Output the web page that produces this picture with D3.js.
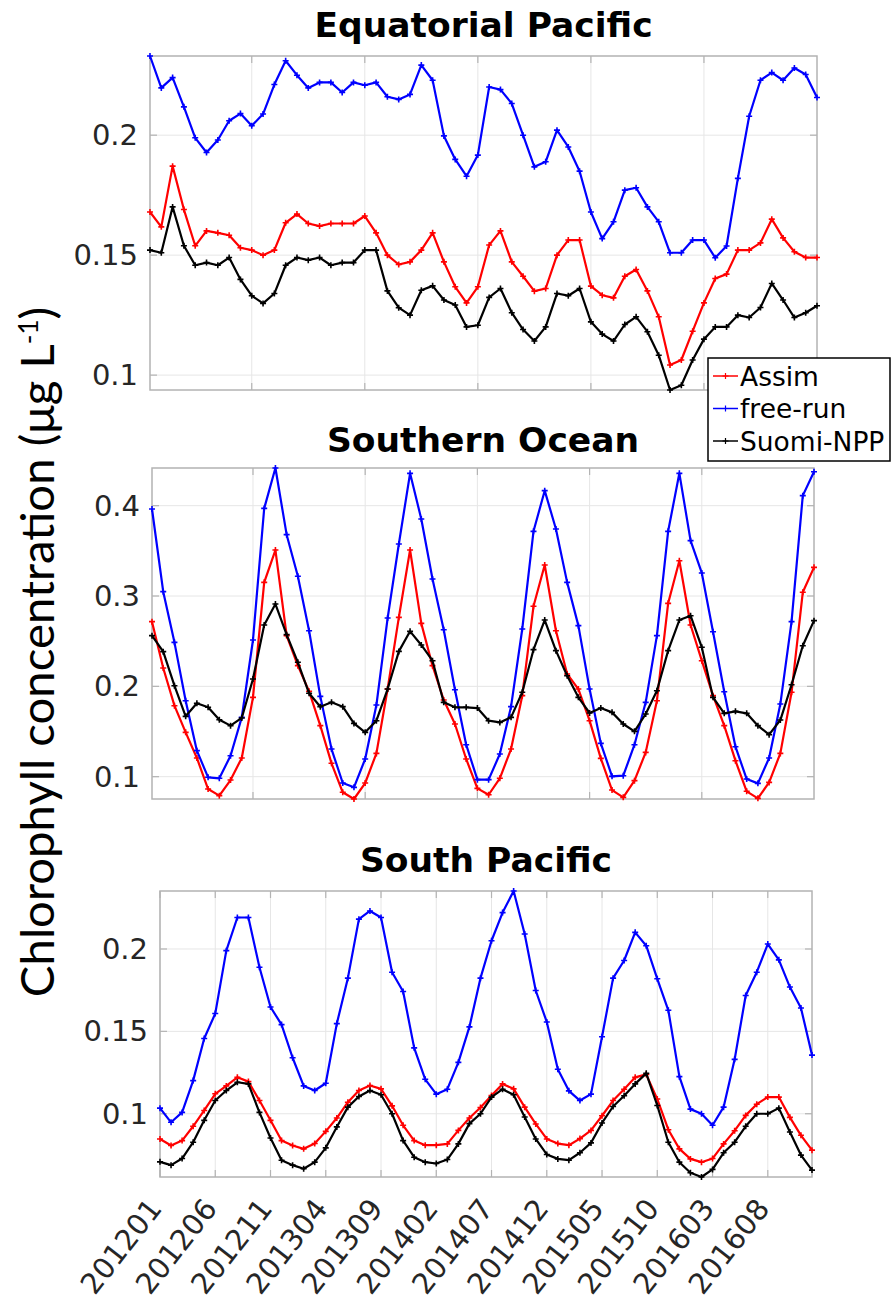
<!DOCTYPE html>
<html>
<head>
<meta charset="utf-8">
<script src="https://cdn.jsdelivr.net/npm/d3@7"></script>
<style>
  html, body { margin: 0; padding: 0; background: #fff; }
  svg { display: block; }
</style>
</head>
<body>
<div id="chart"></div>
<script>
const width = 892;
const height = 1309;

// months 201201 .. 201612 (60 points), x tick labels on the bottom panel every 5 months
const months = d3.range(60);
const dateLabels = ['201201', '201206', '201211', '201304', '201309', '201402',
  '201407', '201412', '201505', '201510', '201603', '201608'];

const seriesNames = ['Assim', 'free-run', 'Suomi-NPP'];
const seriesColors = ['#ff0000', '#0000ff', '#000000'];

// Equatorial Pacific
const eqAssim = [0.168,0.1618,0.1871,0.169,0.1539,0.1601,0.1593,0.1583,0.1531,0.1521,
  0.15,0.1521,0.1635,0.1671,0.1632,0.1621,0.1632,0.1632,0.1632,0.1663,
  0.1593,0.15,0.1461,0.1472,0.1521,0.1593,0.1472,0.1368,0.1301,0.1368,
  0.1542,0.1601,0.1472,0.1412,0.135,0.1361,0.15,0.1563,0.1563,0.1371,
  0.1333,0.1322,0.1412,0.144,0.1351,0.1243,0.1042,0.1063,0.1183,0.1301,
  0.1403,0.1421,0.1521,0.1521,0.1551,0.165,0.1572,0.1514,0.149,0.149];
const eqFree = [0.233,0.2197,0.224,0.2118,0.1989,0.1928,0.198,0.206,0.209,0.2039,
  0.2088,0.2211,0.231,0.225,0.2197,0.222,0.222,0.2178,0.222,0.2208,
  0.222,0.216,0.2149,0.217,0.2292,0.2229,0.1997,0.1899,0.1829,0.1917,
  0.2201,0.219,0.2132,0.2,0.1868,0.1889,0.2021,0.1951,0.185,0.168,
  0.1569,0.1639,0.1771,0.1781,0.1701,0.1639,0.151,0.151,0.1563,0.1563,
  0.1489,0.1538,0.182,0.2079,0.2229,0.2261,0.2229,0.228,0.2253,0.2157];
const eqNpp = [0.1521,0.151,0.1701,0.1539,0.1458,0.1469,0.1458,0.149,0.1399,0.1331,
  0.1299,0.134,0.1458,0.149,0.1479,0.149,0.1458,0.1469,0.1469,0.1521,
  0.1521,0.1351,0.1281,0.125,0.1354,0.1372,0.1313,0.1292,0.1201,0.1208,
  0.1324,0.1361,0.126,0.119,0.1142,0.1201,0.134,0.1331,0.1361,0.1222,
  0.1171,0.1142,0.1211,0.1243,0.1181,0.1083,0.0938,0.0958,0.1063,0.115,
  0.1201,0.1201,0.125,0.124,0.1282,0.1382,0.1313,0.124,0.126,0.1289];

// Southern Ocean
const soAssim = [0.2716,0.2203,0.1786,0.1491,0.1207,0.0863,0.079,0.0963,0.1207,0.1878,
  0.3151,0.3509,0.2561,0.2229,0.1945,0.1565,0.1148,0.0827,0.0753,0.093,
  0.1258,0.197,0.2764,0.3509,0.2697,0.2229,0.1849,0.1583,0.1196,0.0871,
  0.08,0.0982,0.1306,0.1897,0.2886,0.3343,0.2616,0.2137,0.197,0.162,
  0.1203,0.0852,0.0771,0.0956,0.1269,0.1841,0.2919,0.3391,0.2679,0.2284,
  0.1897,0.1565,0.1177,0.0838,0.076,0.0937,0.1258,0.1934,0.3041,0.3317];
const soFree = [0.3963,0.3048,0.2487,0.1841,0.1288,0.0993,0.0982,0.1232,0.1657,0.2513,
  0.397,0.4417,0.3679,0.3218,0.2616,0.1889,0.1306,0.093,0.0882,0.1196,
  0.1793,0.2756,0.3576,0.4358,0.3852,0.3188,0.2627,0.1963,0.1354,0.0967,
  0.0967,0.1251,0.1775,0.2635,0.3716,0.4166,0.3742,0.3151,0.2672,0.197,
  0.1369,0.1004,0.1011,0.1354,0.1823,0.2561,0.3716,0.4358,0.3613,0.3255,
  0.2605,0.1941,0.1332,0.0974,0.0926,0.1207,0.1804,0.2716,0.4111,0.4376];
const soNpp = [0.2561,0.2384,0.2007,0.1668,0.1812,0.1768,0.1631,0.1565,0.165,0.2081,
  0.2679,0.2911,0.2572,0.2266,0.1923,0.1775,0.1823,0.1775,0.159,0.1491,
  0.162,0.197,0.2387,0.2609,0.2458,0.2284,0.1823,0.1768,0.1768,0.176,
  0.162,0.1601,0.1657,0.1934,0.2406,0.2734,0.2395,0.2118,0.1878,0.1705,
  0.176,0.1712,0.1583,0.1502,0.1694,0.1952,0.2395,0.2734,0.2782,0.2432,
  0.1878,0.1701,0.1723,0.1701,0.1565,0.1465,0.1627,0.2018,0.245,0.2727];

// South Pacific
const spAssim = [0.0847,0.0807,0.0837,0.0924,0.102,0.1121,0.1169,0.1221,0.1195,0.108,
  0.096,0.0837,0.0807,0.0787,0.0819,0.0893,0.0974,0.107,0.1141,0.1171,
  0.1151,0.1048,0.093,0.0837,0.0809,0.0809,0.0817,0.0899,0.0974,0.1038,
  0.1111,0.1181,0.1151,0.104,0.0938,0.0847,0.0819,0.0809,0.0849,0.0899,
  0.0988,0.108,0.1149,0.1221,0.1239,0.1089,0.0903,0.0787,0.0726,0.0706,
  0.0728,0.0817,0.0897,0.099,0.1058,0.1101,0.1101,0.0978,0.0869,0.0779];
const spFree = [0.1034,0.0948,0.1008,0.1201,0.1457,0.1608,0.199,0.2191,0.2191,0.1889,
  0.1648,0.1541,0.134,0.1169,0.1141,0.1185,0.1547,0.1823,0.2181,0.2231,
  0.2191,0.1859,0.1742,0.14,0.1209,0.1119,0.1149,0.1312,0.1527,0.1823,
  0.205,0.2221,0.2352,0.2091,0.1748,0.1557,0.127,0.1139,0.108,0.1119,
  0.1467,0.1823,0.193,0.2101,0.202,0.1819,0.1628,0.1225,0.1028,0.1,
  0.093,0.104,0.133,0.1718,0.1859,0.203,0.1934,0.1769,0.1642,0.1356];
const spNpp = [0.0708,0.0688,0.0728,0.0827,0.096,0.108,0.1141,0.1191,0.1181,0.1008,
  0.0853,0.0718,0.0688,0.0666,0.0706,0.0793,0.092,0.104,0.1105,0.1141,
  0.1115,0.1,0.0837,0.0736,0.0706,0.0698,0.0722,0.0817,0.094,0.1,
  0.1101,0.1149,0.1115,0.098,0.0847,0.0753,0.0726,0.0718,0.0763,0.0823,
  0.0944,0.1044,0.1109,0.1181,0.1245,0.105,0.0827,0.0706,0.0642,0.0616,
  0.0662,0.0763,0.0827,0.0924,0.1,0.1,0.1034,0.0889,0.0749,0.0658];

const panelTitles = ['Equatorial Pacific', 'Southern Ocean', 'South Pacific'];
const panelYTicks = [[0.1, 0.15, 0.2], [0.1, 0.2, 0.3, 0.4], [0.1, 0.15, 0.2]];

// layout of each axes box (pixels)
const panels = [
  { title: panelTitles[0], series: [eqAssim, eqFree, eqNpp], yTicks: panelYTicks[0],
    left: 150, right: 817, top: 56, bottom: 390, titleY: 37, xTicks: [9, 19, 29, 39, 49], labels: false },
  { title: panelTitles[1], series: [soAssim, soFree, soNpp], yTicks: panelYTicks[1],
    left: 152, right: 814, top: 468, bottom: 799, titleY: 452, xTicks: [9, 19, 29, 39, 49], labels: false },
  { title: panelTitles[2], series: [spAssim, spFree, spNpp], yTicks: panelYTicks[2],
    left: 160, right: 812, top: 891, bottom: 1177, titleY: 872, xTicks: d3.range(0, 60, 5), labels: true }
];

const svg = d3.select('#chart').append('svg')
  .attr('width', width)
  .attr('height', height);

const marker = 'M-3,0H3M0,-3V3';

panels.forEach(p => {
  const x = d3.scaleLinear().domain([0, 59]).range([p.left, p.right]);
  const y = d3.scaleLinear()
    .domain(d3.extent(p.series.flat()))
    .range([p.bottom, p.top]);

  const g = svg.append('g');

  // grid
  g.append('g').selectAll('line').data(p.xTicks).join('line')
    .attr('x1', d => x(d)).attr('x2', d => x(d))
    .attr('y1', p.top).attr('y2', p.bottom)
    .attr('stroke', '#e6e6e6').attr('stroke-width', 1);
  g.append('g').selectAll('line').data(p.yTicks).join('line')
    .attr('x1', p.left).attr('x2', p.right)
    .attr('y1', d => y(d)).attr('y2', d => y(d))
    .attr('stroke', '#e6e6e6').attr('stroke-width', 1);

  // box
  g.append('rect')
    .attr('x', p.left).attr('y', p.top)
    .attr('width', p.right - p.left).attr('height', p.bottom - p.top)
    .attr('fill', 'none').attr('stroke', '#b3b3b3').attr('stroke-width', 1.5);

  // inner ticks
  const tl = 7;
  p.yTicks.forEach(v => {
    g.append('line').attr('x1', p.left).attr('x2', p.left + tl)
      .attr('y1', y(v)).attr('y2', y(v)).attr('stroke', '#b3b3b3').attr('stroke-width', 1.2);
    g.append('line').attr('x1', p.right).attr('x2', p.right - tl)
      .attr('y1', y(v)).attr('y2', y(v)).attr('stroke', '#b3b3b3').attr('stroke-width', 1.2);
  });
  p.xTicks.forEach(v => {
    g.append('line').attr('x1', x(v)).attr('x2', x(v))
      .attr('y1', p.bottom).attr('y2', p.bottom - tl).attr('stroke', '#b3b3b3').attr('stroke-width', 1.2);
    g.append('line').attr('x1', x(v)).attr('x2', x(v))
      .attr('y1', p.top).attr('y2', p.top + tl).attr('stroke', '#b3b3b3').attr('stroke-width', 1.2);
  });

  // y tick labels
  g.append('g').selectAll('text').data(p.yTicks).join('text')
    .attr('x', p.left - 12)
    .attr('y', d => y(d))
    .attr('text-anchor', 'end')
    .attr('dominant-baseline', 'central')
    .attr('font-family', 'DejaVu Sans')
    .attr('font-size', 29)
    .attr('fill', '#262626')
    .text(d => String(d));

  // x tick labels (bottom panel only)
  if (p.labels) {
    g.append('g').selectAll('text').data(p.xTicks).join('text')
      .attr('transform', (d, i) => `translate(${x(d) + 3},${p.bottom + 32}) rotate(-52)`)
      .attr('text-anchor', 'end')
      .attr('font-family', 'DejaVu Sans')
      .attr('font-size', 29)
      .attr('fill', '#262626')
      .text((d, i) => dateLabels[i]);
  }

  // lines
  const line = d3.line().x((d, i) => x(months[i])).y(d => y(d));
  p.series.forEach((s, k) => {
    g.append('path')
      .datum(s)
      .attr('d', line)
      .attr('fill', 'none')
      .attr('stroke', seriesColors[k])
      .attr('stroke-width', 2.2)
      .attr('stroke-linejoin', 'round');
    g.append('g').selectAll('path').data(s).join('path')
      .attr('transform', (d, i) => `translate(${x(months[i])},${y(d)})`)
      .attr('d', marker)
      .attr('stroke', seriesColors[k])
      .attr('stroke-width', 1.6);
  });

  // title
  g.append('text')
    .attr('x', (p.left + p.right) / 2)
    .attr('y', p.titleY)
    .attr('text-anchor', 'middle')
    .attr('font-family', 'DejaVu Sans')
    .attr('font-weight', 'bold')
    .attr('font-size', 34.5)
    .attr('fill', '#000')
    .text(p.title);
});

// legend
const legend = svg.append('g');
legend.append('rect')
  .attr('x', 708).attr('y', 358)
  .attr('width', 182).attr('height', 103)
  .attr('fill', '#fff').attr('stroke', '#000').attr('stroke-width', 1.5);
seriesNames.forEach((name, k) => {
  const cy = 376 + k * 32.5;
  legend.append('line')
    .attr('x1', 713).attr('x2', 738).attr('y1', cy).attr('y2', cy)
    .attr('stroke', seriesColors[k]).attr('stroke-width', 1.5);
  legend.append('path')
    .attr('transform', `translate(725.5,${cy})`)
    .attr('d', marker)
    .attr('stroke', seriesColors[k]).attr('stroke-width', 1.2);
  legend.append('text')
    .attr('x', 740).attr('y', cy)
    .attr('dominant-baseline', 'central')
    .attr('font-family', 'DejaVu Sans')
    .attr('font-size', 26.5)
    .attr('fill', '#000')
    .text(name);
});

// shared y label
const ylab = svg.append('text')
  .attr('transform', 'translate(54,652) rotate(-90)')
  .attr('text-anchor', 'middle')
  .attr('font-family', 'Lato')
  .attr('font-size', 40)
  .attr('fill', '#000');
ylab.append('tspan').text('Chlorophyll concentration (μg L');
ylab.append('tspan').attr('baseline-shift', 'super').attr('font-size', 26).text('-1');
ylab.append('tspan').text(')');
const len = ylab.node().getComputedTextLength();
ylab.attr('font-size', 40 * 695 / len);
</script>
</body>
</html>
